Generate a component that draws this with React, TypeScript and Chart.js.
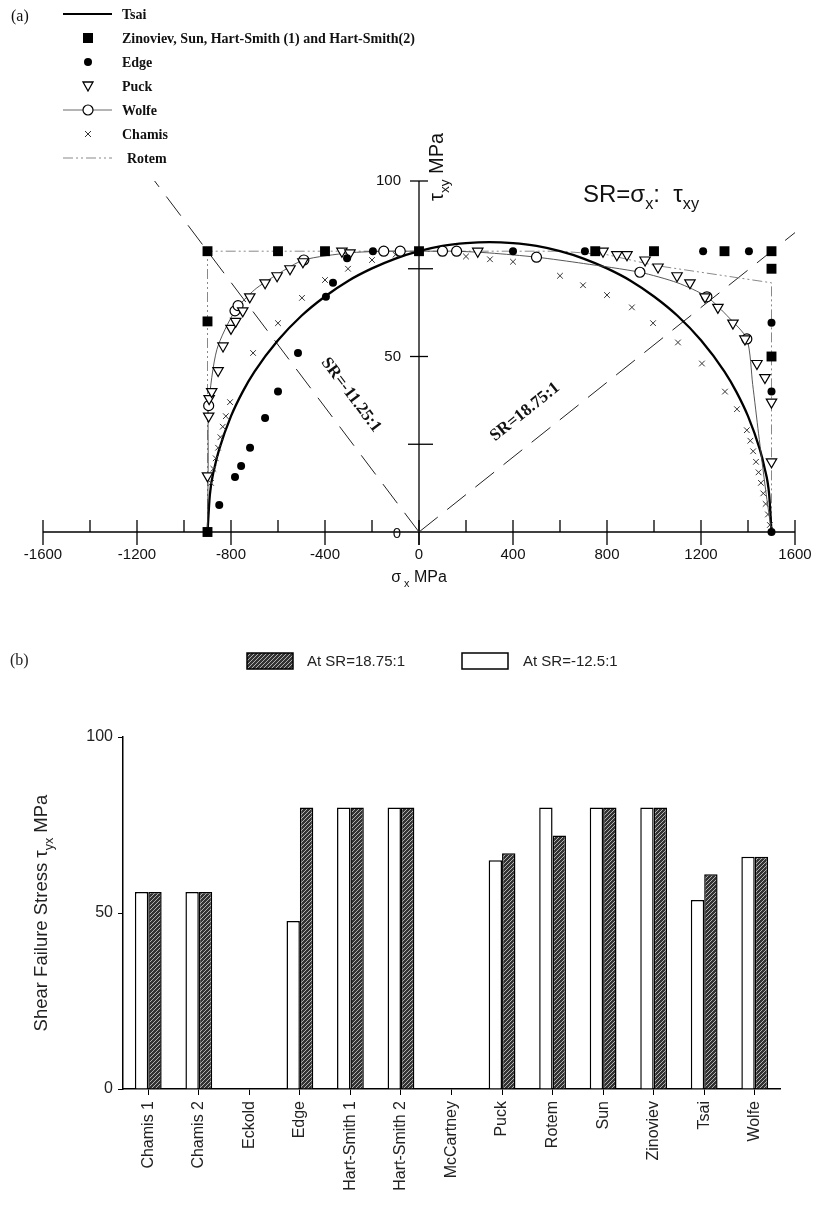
import React, { useEffect, useRef } from "react";
import { Chart, registerables } from "chart.js";
Chart.register(...registerables);

const SANS = "'Liberation Sans', Arial, Helvetica, sans-serif";
const SERIF = "'Liberation Serif', 'Times New Roman', serif";

// ---------- (a) data ----------
const xMajorTicks = [-1600, -1200, -800, -400, 0, 400, 800, 1200, 1600];
const xMinorTicks = [-1400, -1000, -600, -200, 200, 600, 1000, 1400];
const yMajorTicks = [0, 50, 100];
const yMinorTicks = [25, 75];

const tsaiCurve = [[-900,0],[-890,10.6],[-870,18.4],[-850,23.6],[-800,33],[-750,40],[-700,45.7],[-600,54.6],[-500,61.6],[-400,67.1],[-300,71.6],[-200,75.1],[-100,77.9],[0,80],[100,81.5],[200,82.3],[300,82.6],[400,82.3],[500,81.5],[600,80],[700,77.9],[800,75.1],[900,71.6],[1000,67.1],[1100,61.6],[1200,54.6],[1300,45.7],[1350,40],[1400,33],[1450,23.6],[1470,18.4],[1490,10.7],[1500,0]];
const zinovievPts = [[-900,0],[-900,60],[-900,80],[-600,80],[-400,80],[0,80],[750,80],[1000,80],[1300,80],[1500,80],[1500,75],[1500,50]];
const edgePts = [[-850,7.7],[-783,15.7],[-757,18.8],[-719,24],[-655,32.5],[-600,40],[-515,51],[-396,67],[-366,71],[-306,78],[-196,80],[0,80],[400,80],[706,80],[1209,80],[1404,80],[1500,59.6],[1500,40],[1500,0]];
const puckPts = [[-900,16],[-895,33],[-893,38],[-882,40],[-855,46],[-834,53],[-800,58],[-780,60],[-750,63],[-720,67],[-655,71],[-604,73],[-549,75],[-494,77],[-328,80],[-294,79.5],[250,80],[783,80],[842,79],[885,79],[962,77.5],[1017,75.5],[1098,73],[1153,71],[1217,67],[1272,64],[1336,59.5],[1387,55],[1438,48],[1472,44],[1500,37],[1500,20]];
const wolfeLine = [[-900,0],[-897,20],[-895,36],[-860,52],[-783,63],[-700,69],[-600,73.5],[-490,77.5],[-300,79.5],[-150,80],[-80,80],[0,80],[100,80],[160,80],[300,79.5],[500,78.3],[700,76.5],[940,74],[1100,71],[1225,67],[1320,61],[1395,55],[1420,42],[1445,28],[1475,12],[1500,0]];
const wolfeMarkers = [[-895,36],[-783,63],[-770,64.5],[-490,77.5],[-150,80],[-80,80],[100,80],[160,80],[500,78.3],[940,74],[1225,67],[1395,55]];
const chamisPts = [[-885,14],[-875,18],[-865,21],[-855,24],[-845,27],[-835,30],[-822,33],[-804,37],[-706,51],[-600,59.5],[-498,66.7],[-400,71.8],[-302,75],[-200,77.5],[-100,79],[0,80],[100,79.5],[200,78.5],[302,77.7],[400,77],[600,73],[698,70.3],[800,67.5],[906,64],[996,59.5],[1102,54],[1204,48],[1302,40],[1353,35],[1395,29],[1410,26],[1422,23],[1434,20],[1445,17],[1455,14],[1465,11],[1475,8],[1485,5],[1493,2]];
const rotemPath = [[-900,0],[-900,80],[600,80],[800,79],[1000,76],[1200,74],[1500,71],[1500,0]];
const srNegLine = [[0,0],[-1125,100]];
const srPosLine = [[0,0],[1600,85.3]];

const legendA = ["Tsai", "Zinoviev, Sun, Hart-Smith (1) and Hart-Smith(2)", "Edge", "Puck", "Wolfe", "Chamis", "Rotem"];

// ---------- (b) data ----------
const categories = ["Chamis 1","Chamis 2","Eckold","Edge","Hart-Smith 1","Hart-Smith 2","McCartney","Puck","Rotem","Sun","Zinoviev","Tsai","Wolfe"];
const atSRneg = [56, 56, null, 47.7, 80, 80, null, 65, 80, 80, 80, 53.7, 66];
const atSRpos = [56, 56, null, 80, 80, 80, null, 67, 72, 80, 80, 61, 66];
const barYTicks = [0, 50, 100];

const pts = (a) => a.map(([x, y]) => ({ x, y }));

function line(ctx, x1, y1, x2, y2) {
  ctx.beginPath(); ctx.moveTo(x1, y1); ctx.lineTo(x2, y2); ctx.stroke();
}

function richWidth(ctx, parts, size, family) {
  let w = 0;
  for (const [t, sub] of parts) {
    ctx.font = `${sub ? size * 0.68 : size}px ${family}`;
    w += ctx.measureText(t).width;
  }
  return w;
}
function drawRich(ctx, parts, x, y, size, family, align) {
  const w = richWidth(ctx, parts, size, family);
  let cx = align === "center" ? x - w / 2 : x;
  ctx.textAlign = "left";
  ctx.textBaseline = "alphabetic";
  for (const [t, sub] of parts) {
    ctx.font = `${sub ? size * 0.68 : size}px ${family}`;
    ctx.fillText(t, cx, sub ? y + size * 0.3 : y);
    cx += ctx.measureText(t).width;
  }
}

const topDecor = {
  id: "topDecor",
  beforeDatasetsDraw(chart) {
    const { ctx } = chart;
    const X = (v) => chart.scales.x.getPixelForValue(v);
    const Y = (v) => chart.scales.y.getPixelForValue(v);
    const y0 = Y(0), x0 = X(0);
    ctx.save();
    ctx.strokeStyle = "#000";
    ctx.lineWidth = 1.3;
    line(ctx, X(-1600), y0, X(1600), y0);
    xMajorTicks.forEach((v) => line(ctx, X(v), y0 - 12, X(v), y0 + 13));
    xMinorTicks.forEach((v) => line(ctx, X(v), y0 - 12, X(v), y0));
    line(ctx, x0, Y(100), x0, y0 + 13);
    yMajorTicks.forEach((v) => { if (v > 0) line(ctx, x0 - 9, Y(v), x0 + 9, Y(v)); });
    yMinorTicks.forEach((v) => line(ctx, x0 - 11, Y(v), x0 + 14, Y(v)));
    ctx.fillStyle = "#111";
    ctx.font = `15px ${SANS}`;
    ctx.textAlign = "center";
    ctx.textBaseline = "middle";
    xMajorTicks.forEach((v) => ctx.fillText(String(v), X(v), y0 + 23));
    ctx.textAlign = "right";
    yMajorTicks.forEach((v) => ctx.fillText(String(v), x0 - 18, Y(v) + (v === 0 ? 2 : 0)));
    ctx.restore();
  },
  afterDraw(chart) {
    const { ctx } = chart;
    const X = (v) => chart.scales.x.getPixelForValue(v);
    const Y = (v) => chart.scales.y.getPixelForValue(v);
    ctx.save();
    ctx.fillStyle = "#111";
    drawRich(ctx, [["\u03c3", false], [" x", true], [" MPa", false]], X(0), Y(0) + 50, 16, SANS, "center");
    ctx.save();
    ctx.translate(X(0) + 24, Y(100) + 20);
    ctx.rotate(-Math.PI / 2);
    drawRich(ctx, [["\u03c4", false], ["xy", true], [" MPa", false]], 0, 0, 20, SANS, "left");
    ctx.restore();
    drawRich(ctx, [["SR=\u03c3", false], ["x", true], [":  \u03c4", false], ["xy", true]], 583, 202, 24, SANS, "left");
    ctx.font = `bold 17px ${SERIF}`;
    ctx.textAlign = "center";
    ctx.textBaseline = "middle";
    ctx.save(); ctx.translate(351, 395); ctx.rotate((53 * Math.PI) / 180); ctx.fillText("SR=-11.25:1", 0, 0); ctx.restore();
    ctx.save(); ctx.translate(525, 412); ctx.rotate((-38.6 * Math.PI) / 180); ctx.fillText("SR=18.75:1", 0, 0); ctx.restore();
    ctx.font = `16px ${SERIF}`;
    ctx.textAlign = "left";
    ctx.fillText("(a)", 11, 17);
    const lx0 = 63, lx1 = 112, mx = 88, tx = 122;
    legendA.forEach((label, i) => {
      const y = 14 + 24 * i;
      ctx.strokeStyle = "#000";
      ctx.fillStyle = "#000";
      ctx.setLineDash([]);
      if (i === 0) { ctx.lineWidth = 2; line(ctx, lx0, y, lx1, y); }
      if (i === 1) { ctx.fillRect(mx - 5, y - 5, 10, 10); }
      if (i === 2) { ctx.beginPath(); ctx.arc(mx, y, 4, 0, Math.PI * 2); ctx.fill(); }
      if (i === 3) {
        ctx.lineWidth = 1.3; ctx.beginPath();
        ctx.moveTo(mx - 5, y - 4); ctx.lineTo(mx + 5, y - 4); ctx.lineTo(mx, y + 5); ctx.closePath(); ctx.stroke();
      }
      if (i === 4) {
        ctx.lineWidth = 0.8; ctx.strokeStyle = "#444"; line(ctx, lx0, y, lx1, y);
        ctx.fillStyle = "#fff"; ctx.strokeStyle = "#000"; ctx.lineWidth = 1.2;
        ctx.beginPath(); ctx.arc(mx, y, 5, 0, Math.PI * 2); ctx.fill(); ctx.stroke();
      }
      if (i === 5) { ctx.lineWidth = 1; ctx.strokeStyle = "#333"; line(ctx, mx - 3, y - 3, mx + 3, y + 3); line(ctx, mx - 3, y + 3, mx + 3, y - 3); }
      if (i === 6) { ctx.lineWidth = 1; ctx.strokeStyle = "#888"; ctx.setLineDash([10, 3, 2, 3, 2, 3]); line(ctx, lx0, y, lx1, y); ctx.setLineDash([]); }
      ctx.fillStyle = "#111";
      ctx.font = `bold 14px ${SERIF}`;
      ctx.textAlign = "left";
      ctx.textBaseline = "middle";
      ctx.fillText(label, i === 6 ? tx + 5 : tx, y + 1);
    });
    ctx.restore();
  },
};

const botDecor = {
  id: "botDecor",
  afterDraw(chart) {
    const { ctx } = chart;
    const pattern = chart.data.datasets[1].backgroundColor;
    ctx.save();
    ctx.fillStyle = "#222";
    ctx.font = `16px ${SERIF}`;
    ctx.textBaseline = "middle";
    ctx.textAlign = "left";
    ctx.fillText("(b)", 10, 41);
    ctx.fillStyle = pattern; ctx.fillRect(247, 33, 46, 16);
    ctx.strokeStyle = "#000"; ctx.lineWidth = 1.5; ctx.strokeRect(247, 33, 46, 16);
    ctx.fillStyle = "#fff"; ctx.fillRect(462, 33, 46, 16); ctx.strokeRect(462, 33, 46, 16);
    ctx.fillStyle = "#222"; ctx.font = `15px ${SANS}`;
    ctx.fillText("At SR=18.75:1", 307, 42);
    ctx.fillText("At SR=-12.5:1", 523, 42);
    const ya = chart.scales.y;
    ctx.save();
    ctx.translate(47, (ya.top + ya.bottom) / 2);
    ctx.rotate(-Math.PI / 2);
    drawRich(ctx, [["Shear Failure Stress \u03c4", false], ["yx", true], [" MPa", false]], 0, 0, 18.5, SANS, "center");
    ctx.restore();
    ctx.restore();
  },
};

export default function App() {
  const topRef = useRef(null);
  const botRef = useRef(null);
  useEffect(() => {
    const common = { clip: false, showLine: false };
    const c1 = new Chart(topRef.current, {
      type: "scatter",
      data: {
        datasets: [
          { ...common, label: "Zinoviev", data: pts(zinovievPts), pointStyle: "rect", pointRadius: 7, backgroundColor: "#000", borderColor: "#000", borderWidth: 0 },
          { ...common, label: "Edge", data: pts(edgePts), pointStyle: "circle", pointRadius: 4, backgroundColor: "#000", borderColor: "#000", borderWidth: 0 },
          { ...common, label: "Puck", data: pts(puckPts), pointStyle: "triangle", rotation: 180, pointRadius: 6, backgroundColor: "#fff", borderColor: "#000", borderWidth: 1.2 },
          { ...common, label: "WolfeM", data: pts(wolfeMarkers), pointStyle: "circle", pointRadius: 5, backgroundColor: "#fff", borderColor: "#000", borderWidth: 1.2 },
          { ...common, label: "Wolfe", data: pts(wolfeLine), showLine: true, pointRadius: 0, borderColor: "#444", borderWidth: 0.9, tension: 0.25 },
          { ...common, label: "Chamis", data: pts(chamisPts), pointStyle: "crossRot", pointRadius: 4, borderColor: "#333", borderWidth: 1 },
          { ...common, label: "Tsai", data: pts(tsaiCurve), showLine: true, pointRadius: 0, borderColor: "#000", borderWidth: 2.3, cubicInterpolationMode: "monotone" },
          { ...common, label: "Rotem", data: pts(rotemPath), showLine: true, pointRadius: 0, borderColor: "#888", borderWidth: 1, borderDash: [10, 3, 2, 3, 2, 3] },
          { ...common, label: "SRneg", data: pts(srNegLine), showLine: true, pointRadius: 0, borderColor: "#222", borderWidth: 1, borderDash: [24, 12] },
          { ...common, label: "SRpos", data: pts(srPosLine), showLine: true, pointRadius: 0, borderColor: "#222", borderWidth: 1, borderDash: [24, 12] },
        ],
      },
      options: {
        animation: false,
        responsive: false,
        devicePixelRatio: 1,
        layout: { padding: { left: 43, right: 31, top: 181, bottom: 88 } },
        scales: {
          x: { type: "linear", min: -1600, max: 1600, display: false },
          y: { type: "linear", min: 0, max: 100, display: false },
        },
        plugins: { legend: { display: false }, tooltip: { enabled: false } },
      },
      plugins: [topDecor],
    });

    const pc = document.createElement("canvas");
    pc.width = 4; pc.height = 4;
    const p = pc.getContext("2d");
    p.fillStyle = "#333"; p.fillRect(0, 0, 4, 4);
    p.strokeStyle = "#b0b0b0"; p.lineWidth = 1;
    p.beginPath();
    p.moveTo(0, 4); p.lineTo(4, 0);
    p.moveTo(-1, 1); p.lineTo(1, -1);
    p.moveTo(3, 5); p.lineTo(5, 3);
    p.stroke();
    const bctx = botRef.current.getContext("2d");
    const pattern = bctx.createPattern(pc, "repeat");

    const tickFont = { family: SANS, size: 16 };
    const c2 = new Chart(botRef.current, {
      type: "bar",
      data: {
        labels: categories,
        datasets: [
          { label: "At SR=-12.5:1", data: atSRneg, backgroundColor: "#fff", borderColor: "#000", borderWidth: 1.5, categoryPercentage: 0.53, barPercentage: 1 },
          { label: "At SR=18.75:1", data: atSRpos, backgroundColor: pattern, borderColor: "#000", borderWidth: 1.5, categoryPercentage: 0.53, barPercentage: 1 },
        ],
      },
      options: {
        animation: false,
        responsive: false,
        devicePixelRatio: 1,
        layout: { padding: { left: 0, right: 46, top: 117, bottom: 0 } },
        scales: {
          x: {
            grid: { drawOnChartArea: false, drawTicks: true, tickLength: 6, color: "#000", offset: false },
            border: { display: true, color: "#000", width: 1.5 },
            ticks: { minRotation: 90, maxRotation: 90, padding: 6, color: "#222", font: tickFont, autoSkip: false },
            afterFit: (s) => { s.height = 134; },
          },
          y: {
            min: 0, max: 100,
            afterBuildTicks: (s) => { s.ticks = barYTicks.map((v) => ({ value: v })); },
            grid: { drawOnChartArea: false, drawTicks: true, tickLength: 5, color: "#000" },
            border: { display: true, color: "#000", width: 1.5 },
            ticks: { padding: 5, color: "#222", font: tickFont },
            afterFit: (s) => { s.width = 123; },
          },
        },
        plugins: { legend: { display: false }, tooltip: { enabled: false } },
      },
      plugins: [botDecor],
    });
    return () => { c1.destroy(); c2.destroy(); };
  }, []);
  return (
    <div style={{ position: "absolute", left: 0, top: 0, width: 826, height: 1223, background: "#fff" }}>
      <canvas ref={topRef} width={826} height={620} style={{ position: "absolute", left: 0, top: 0, display: "block" }} />
      <canvas ref={botRef} width={826} height={603} style={{ position: "absolute", left: 0, top: 620, display: "block" }} />
    </div>
  );
}
